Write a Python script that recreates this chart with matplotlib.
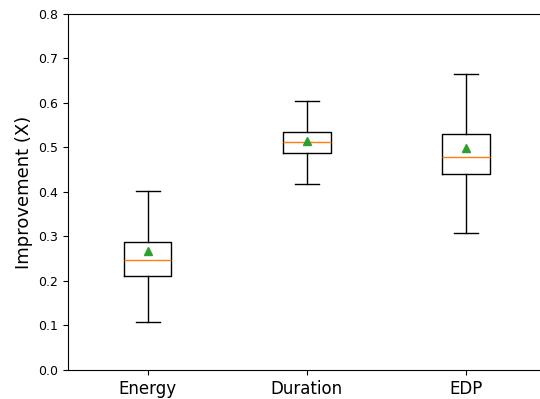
import matplotlib
matplotlib.use("Agg")
import matplotlib.pyplot as plt

# Box statistics
labels = ['Energy', 'Duration', 'EDP']
whislo = [0.107, 0.417, 0.307]
q1 = [0.211, 0.488, 0.440]
med = [0.247, 0.513, 0.479]
q3 = [0.288, 0.535, 0.531]
whishi = [0.402, 0.605, 0.665]
mean = [0.268, 0.515, 0.498]

stats = []
for i in range(len(labels)):
    stats.append({
        'label': labels[i],
        'whislo': whislo[i],
        'q1': q1[i],
        'med': med[i],
        'q3': q3[i],
        'whishi': whishi[i],
        'mean': mean[i],
        'fliers': [],
    })

fig, ax = plt.subplots(figsize=(5.4, 3.99), dpi=100)
ax.bxp(stats, showmeans=True, showfliers=False)
ax.set_ylim(0, 0.8)
ax.set_ylabel('Improvement (X)', fontsize=13)
ax.tick_params(axis='x', labelsize=12)
ax.tick_params(axis='y', labelsize=9)
# the right spine falls just outside the saved image in the reference
plt.subplots_adjust(left=0.126, right=1.01, top=0.965, bottom=0.073)
plt.savefig('out.png', dpi=100)
